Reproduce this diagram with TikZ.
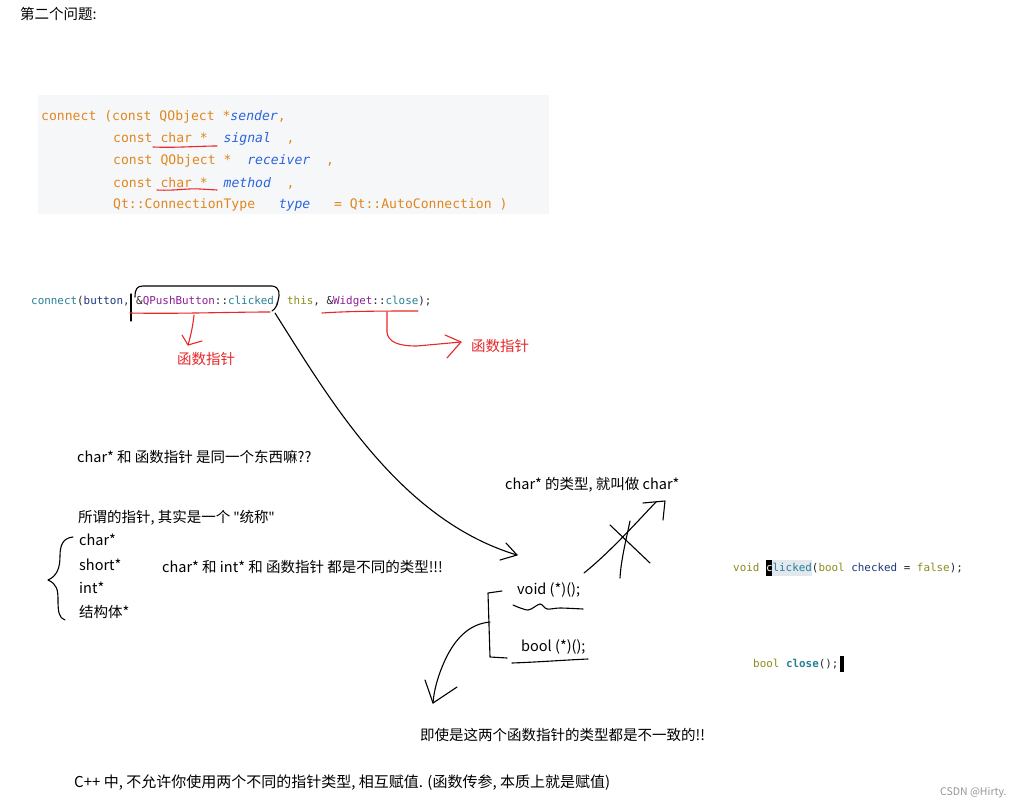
\documentclass[tikz,border=0pt]{standalone}
\usepackage{fontspec}
\setmainfont{Noto Sans CJK SC}
\newfontfamily\codefont{DejaVu Sans Mono}
\newfontfamily\latinfont{Noto Sans}

\definecolor{codebg}{RGB}{246,247,249}
\definecolor{qtorange}{RGB}{224,135,30}
\definecolor{qtblue}{RGB}{45,100,220}
\definecolor{penred}{RGB}{232,40,40}
\definecolor{vsteal}{RGB}{38,128,150}
\definecolor{vsnavy}{RGB}{31,55,127}
\definecolor{vspurple}{RGB}{143,30,150}
\definecolor{vsolive}{RGB}{140,140,30}
\definecolor{vsdark}{RGB}{40,40,40}
\definecolor{vshl}{RGB}{226,232,238}
\definecolor{markgray}{RGB}{150,150,150}

\newcommand\qo[1]{\textcolor{qtorange}{#1}}
\newcommand\qb[1]{\textcolor{qtblue}{\itshape #1}}
\newcommand\cteal[1]{\textcolor{vsteal}{#1}}
\newcommand\cnavy[1]{\textcolor{vsnavy}{#1}}
\newcommand\cpurp[1]{\textcolor{vspurple}{#1}}
\newcommand\colive[1]{\textcolor{vsolive}{#1}}
\newcommand\cdark[1]{\textcolor{vsdark}{#1}}
\newcommand\dq{{\latinfont"}}

\begin{document}
\begin{tikzpicture}[
  x=1pt, y=-1pt,
  note/.style={anchor=west, inner sep=0pt, font=\fontsize{14.5}{16}\selectfont},
  rednote/.style={note, text=penred},
  qtcode/.style={anchor=west, inner sep=0pt, font=\codefont\fontsize{13.1}{15}\selectfont},
  vscode/.style={anchor=west, inner sep=0pt, font=\codefont\fontsize{10.9}{13}\selectfont},
  ink/.style={line width=1.1pt, line cap=round, line join=round},
  redink/.style={ink, draw=penred}
]
\useasboundingbox[fill=white] (0,0) rectangle (1024,810);

% CODE BLOCK
\fill[codebg] (38,95) rectangle (549,214);
\node[note] (title) at (20,14) {第二个问题:};
\node[qtcode] (sender) at (41,117) {\qo{connect~(const~QObject~*}\qb{sender}\qo{,}};
\node[qtcode] (signal) at (113,139) {\qo{const~char~*~~}\qb{signal}\qo{~~,}};
\node[qtcode] (receiver) at (113,161) {\qo{const~QObject~*~~}\qb{receiver}\qo{~~,}};
\node[qtcode] (method) at (113,183) {\qo{const~char~*~~}\qb{method}\qo{~~,}};
\node[qtcode] (conntype) at (113,205) {\qo{Qt::ConnectionType~~~}\qb{type}\qo{~~~=~Qt::AutoConnection~)}};
\draw[redink] (153,147) .. controls (175,148) and (200,146) .. (217,146);
\draw[redink] (157,190) .. controls (175,191) and (190,188) .. (200,189) -- (217,190);

% CONNECT CALL
\node[vscode] (connline) at (31,301) {\cteal{connect}\cdark{(}\cnavy{button,}~\cdark{\&}\cpurp{QPushButton}\cdark{::}\cteal{clicked}\cdark{,}~\colive{this}\cdark{,}~\cdark{\&}\cpurp{Widget}\cdark{::}\cteal{close}\cdark{);}};
\node[rednote] (fpleft) at (177,359) {函数指针};
\node[rednote] (fpright) at (471,346) {函数指针};
\coordinate (circ) at (275,313);
\coordinate (tipA) at (517,555);
\coordinate (tipL) at (188,345);
\coordinate (tipR) at (461,342);

\draw[ink] (131,321) -- (131,294);
\draw[ink] (135,297) .. controls (135,289) and (137,286) .. (143,286) -- (272,286)
  .. controls (280,287) and (280,294) .. (278,301) .. controls (277,306) and (275,309) .. (272,311);
\draw[redink] (130,313) .. controls (180,314) and (230,312) .. (270,312);
\draw[redink] (194,315) .. controls (193,325) and (191,335) .. (tipL);
\draw[redink] (182,335) -- (tipL) -- (202,341);
\draw[redink] (322,313) .. controls (350,311) and (390,311) .. (418,311);
\draw[redink] (387,312) -- (387,332) .. controls (388,342) and (398,346) .. (417,346) -- (tipR);
\draw[redink] (445,335) -- (tipR) -- (447,358);

% LONG ARROW
\draw[ink] (circ) .. controls (330,400) and (400,520) .. (tipA);
\draw[ink] (506,543) -- (tipA) -- (500,560);

% LEFT NOTES
\node[note] (same) at (77,457) {char* 和 函数指针 是同一个东西嘛??};
\node[note] (general) at (78,518) {所谓的指针, 其实是一个 \dq 统称\dq};
\node[note] (lchar) at (79,540) {char*};
\node[note] (lshort) at (79,565) {short*};
\node[note] (lint) at (79,588) {int*};
\node[note] (lstruct) at (79,612) {结构体*};
\node[note] (differ) at (162,567) {char* 和 int* 和 函数指针 都是不同的类型!!!};
\draw[ink] (73,537) .. controls (63,538) and (60,545) .. (60,556)
  .. controls (60,568) and (57,576) .. (48,580) .. controls (57,584) and (58,590) .. (58,600)
  .. controls (58,612) and (59,618) .. (65,620);

% RIGHT NOTES
\node[note] (chartype) at (505,485) {char* 的类型, 就叫做 char*};
\coordinate (tipC) at (656,502);
\draw[ink] (584,573) .. controls (610,552) and (635,524) .. (tipC);
\draw[ink] (643,503) -- (665,501) -- (663,520);
\draw[ink] (610,525) -- (650,563);
\draw[ink] (630,521) .. controls (626,540) and (621,560) .. (620,578);

\node[note] (voidfp) at (517,590) {void (*)();};
\node[note] (boolfp) at (521,647) {bool (*)();};
\draw[ink] plot[smooth] coordinates {(513,605) (528,610) (540,604) (547,609) (560,608) (583,609)};
\draw[ink] (512,663) .. controls (540,662) and (565,660) .. (588,659);
\draw[ink] (502,591) -- (488,593) -- (490,657) -- (507,658);
\coordinate (tipB) at (433,703);
\draw[ink] (490,622) .. controls (468,624) and (455,640) .. (446,658) .. controls (438,675) and (434,690) .. (tipB);
\draw[ink] (425,680) -- (tipB) -- (457,687);
\node[note] (mismatch) at (420,735) {即使是这两个函数指针的类型都是不一致的!!};

% VS DECLARATIONS
\fill[vshl] (765.8,560) rectangle (811.7,576);
\fill[black] (765.8,560) rectangle (772.4,576);
\node[vscode] (clickdecl) at (733,568) {\colive{void}~\textcolor{white}{c}\cteal{licked}\cdark{(}\colive{bool}~\cnavy{checked}~\cdark{=}~\colive{false}\cdark{);}};
\node[vscode] (closedecl) at (753,664) {\colive{bool}~\textbf{\cteal{close}}\cdark{();}};
\fill[black] (closedecl.east) ++(1,-8) rectangle ++(4,16);

% BOTTOM
\node[note, font=\fontsize{15}{17}\selectfont] (rule) at (74,783) {C++ 中, 不允许你使用两个不同的指针类型, 相互赋值. (函数传参, 本质上就是赋值)};
\node[anchor=west, inner sep=0pt, text=markgray, font=\fontsize{10.5}{12}\selectfont] (mark) at (940,793) {CSDN @Hirty.};
\end{tikzpicture}
\end{document}
